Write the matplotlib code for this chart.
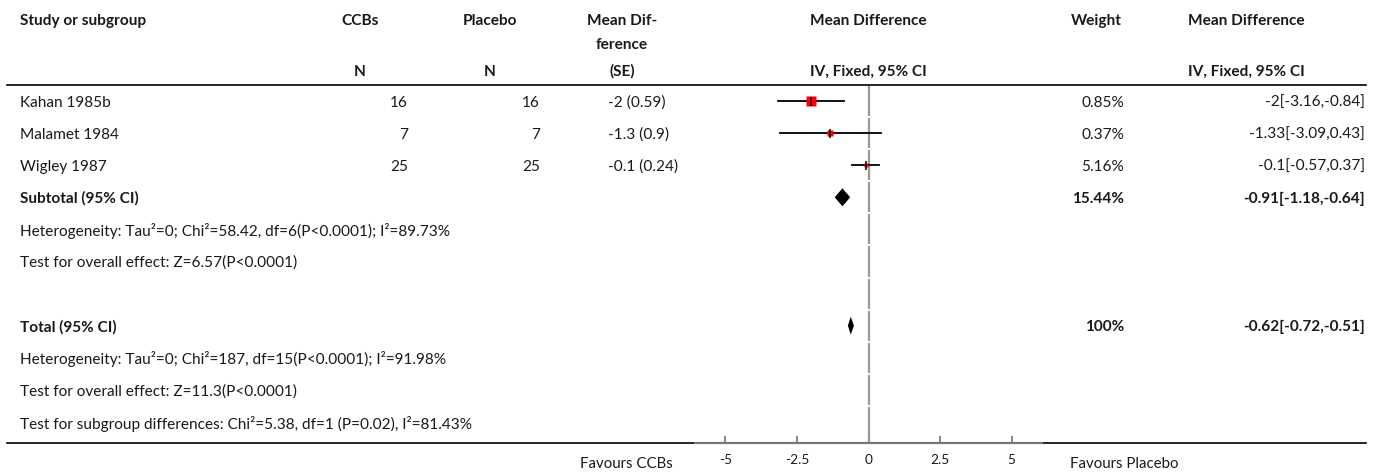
import matplotlib
matplotlib.use("Agg")
import matplotlib.pyplot as plt

# study rows
studies = ["Kahan 1985b", "Malamet 1984", "Wigley 1987"]
n_ccb = [16, 7, 25]
n_placebo = [16, 7, 25]
md = [-2, -1.3, -0.1]
se = [0.59, 0.9, 0.24]
est = [-2, -1.33, -0.1]
ci_low = [-3.16, -3.09, -0.57]
ci_high = [-0.84, 0.43, 0.37]
weights = [0.85, 0.37, 5.16]

# pooled results: estimate, lower, upper, weight
subtotal = [-0.91, -1.18, -0.64, 15.44]
total = [-0.62, -0.72, -0.51, 100]

sub_het = "Heterogeneity: Tau²=0; Chi²=58.42, df=6(P<0.0001); I²=89.73%"
sub_test = "Test for overall effect: Z=6.57(P<0.0001)"
tot_het = "Heterogeneity: Tau²=0; Chi²=187, df=15(P<0.0001); I²=91.98%"
tot_test = "Test for overall effect: Z=11.3(P<0.0001)"
sub_diff = "Test for subgroup differences: Chi²=5.38, df=1 (P=0.02), I²=81.43%"

xticks = [-5, -2.5, 0, 2.5, 5]
xtick_labels = ["-5", "-2.5", "0", "2.5", "5"]

plt.rcParams["font.family"] = ["Lato", "DejaVu Sans"]
W, H = 1373, 472
TXT = "#1a1a1a"
FS = 11.1

fig = plt.figure(figsize=(W / 100, H / 100), dpi=100)

# row layout (y in row units, row 0 = first study)
y0, pitch = 101, 32.1
ylim = ((H - y0) / pitch, (0 - y0) / pitch)

def row(px):
    return (px - y0) / pitch

tx = fig.add_axes([0, 0, 1, 1])
tx.set_xlim(0, W)
tx.set_ylim(*ylim)
tx.axis("off")

def t(x, y, s, ha="left", bold=False, size=FS):
    tx.text(x, y, s, ha=ha, va="center_baseline", fontsize=size,
            fontweight="bold" if bold else "normal", color=TXT)

# header
h1, h2, h3 = row(19), row(43), row(70)
t(20, h1, "Study or subgroup", bold=True)
t(360, h1, "CCBs", ha="center", bold=True)
t(360, h3, "N", ha="center", bold=True)
t(490, h1, "Placebo", ha="center", bold=True)
t(490, h3, "N", ha="center", bold=True)
t(622, h1, "Mean Dif-", ha="center", bold=True)
t(622, h2, "ference", ha="center", bold=True)
t(622, h3, "(SE)", ha="center", bold=True)
t(868, h1, "Mean Difference", ha="center", bold=True)
t(868, h3, "IV, Fixed, 95% CI", ha="center", bold=True)
t(1096, h1, "Weight", ha="center", bold=True)
t(1188, h1, "Mean Difference", bold=True)
t(1188, h3, "IV, Fixed, 95% CI", bold=True)
tx.plot([7, 1366], [row(85), row(85)], color="black", lw=1.2)

for i, name in enumerate(studies):
    t(20, i, name)
    t(408, i, f"{n_ccb[i]}", ha="right")
    t(540, i, f"{n_placebo[i]}", ha="right")
    t(608, i, f"{md[i]:g} ({se[i]:g})")
    t(1124, i, f"{weights[i]:g}%", ha="right")
    t(1365, i, f"{est[i]:g}[{ci_low[i]:g},{ci_high[i]:g}]", ha="right")

rs = len(studies)
t(20, rs, "Subtotal (95% CI)", bold=True)
t(1124, rs, f"{subtotal[3]:g}%", ha="right", bold=True)
t(1365, rs, f"{subtotal[0]:g}[{subtotal[1]:g},{subtotal[2]:g}]", ha="right", bold=True)
t(20, rs + 1, sub_het)
t(20, rs + 2, sub_test)

rt = rs + 4
t(20, rt, "Total (95% CI)", bold=True)
t(1124, rt, f"{total[3]:g}%", ha="right", bold=True)
t(1365, rt, f"{total[0]:g}[{total[1]:g},{total[2]:g}]", ha="right", bold=True)
t(20, rt + 1, tot_het)
t(20, rt + 2, tot_test)
t(20, rt + 3, sub_diff)

axis_y = row(443)
tx.plot([7, 1366], [axis_y, axis_y], color="black", lw=1.2)
t(673, row(462), "Favours CCBs", ha="right", size=10.8)
t(1070, row(462), "Favours Placebo", size=10.8)

# forest panel
px_l, px_r = 695, 1042
ax = fig.add_axes([px_l / W, 0, (px_r - px_l) / W, 1])
ax.set_xlim(-6.06, 6.06)
ax.set_ylim(*ylim)
ax.patch.set_visible(False)
for s in ["top", "left", "right"]:
    ax.spines[s].set_visible(False)
ax.spines["bottom"].set_position(("data", axis_y))
ax.spines["bottom"].set_color("#777777")
ax.spines["bottom"].set_linewidth(1.6)
ax.set_yticks([])
ax.set_xticks(xticks)
ax.set_xticklabels(xtick_labels)
ax.tick_params(axis="x", direction="in", length=5, width=1.2, color="#777777",
               labelsize=9.8, labelcolor=TXT, pad=8)

# line of no effect, broken at each row boundary
n_rows = rt + 4
for r in range(n_rows):
    top = r - 0.5 + 0.03
    bot = min(r + 0.5 - 0.03, axis_y)
    ax.plot([0, 0], [top, bot], color="#999999", lw=1.6, solid_capstyle="butt")
ax.plot([0, 0], [n_rows - 0.5 + 0.03, axis_y], color="#999999", lw=1.6)

box_px = [10, 6.5, 4]
for i in range(len(studies)):
    ax.plot([ci_low[i], ci_high[i]], [i, i], color="black", lw=1.3)
    ax.plot(est[i], i, marker="s", ms=box_px[i] * 0.72, color="#ff0000", mec="none")
    ax.plot(est[i], i, marker="|", ms=9 * 0.72, mew=1.1, color="black")

def diamond(res, y, half_h):
    m, lo, hi = res[0], res[1], res[2]
    ax.fill([lo, m, hi, m], [y, y - half_h, y, y + half_h], color="black", lw=0)

diamond(subtotal, rs, 9 / pitch)
diamond(total, rt, 9 / pitch)

fig.savefig("out.png", dpi=100)
